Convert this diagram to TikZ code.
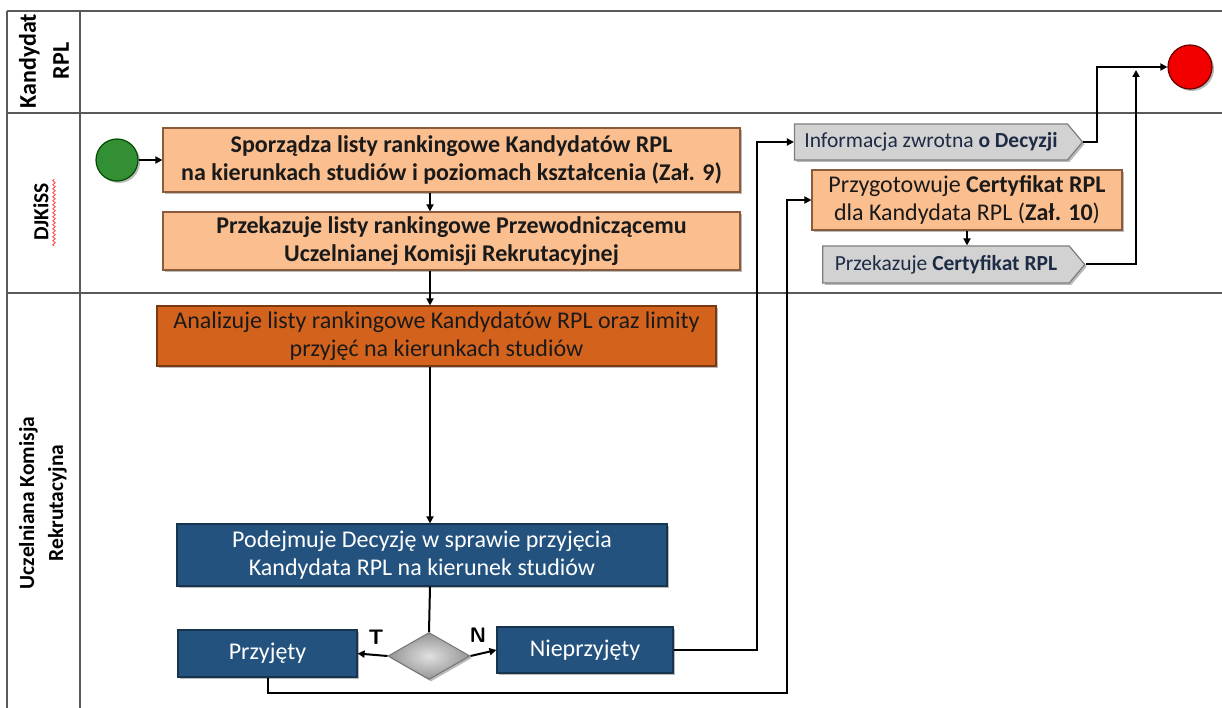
\documentclass[tikz,border=0pt]{standalone}
\usepackage{fontspec}
\setmainfont{Carlito}
\usetikzlibrary{arrows.meta,shapes.geometric,shapes.symbols,shadows,decorations.pathmorphing}
\definecolor{peach}{HTML}{FBBE8E}
\definecolor{peachD}{HTML}{8C5A3C}
\definecolor{orng}{HTML}{D3621C}
\definecolor{orngD}{HTML}{7A3A10}
\definecolor{blu}{HTML}{24527F}
\definecolor{bluD}{HTML}{17344F}
\definecolor{sig}{HTML}{D2D2D2}
\definecolor{sigD}{HTML}{7E7E7E}
\definecolor{lane}{HTML}{5A5A5A}
\definecolor{txt}{HTML}{1A1A1A}
\definecolor{navytxt}{HTML}{1E2B45}
\tikzset{
  laneline/.style={draw=lane, line width=1.4pt},
  lanelabel/.style={rotate=90, align=center, font=\fontsize{21.5}{29}\selectfont\bfseries, text=black},
  boxbase/.style={rectangle, line width=1.2pt, align=center, inner sep=2pt,
     drop shadow={shadow xshift=2pt, shadow yshift=-2pt, fill=black!45, opacity=0.6}},
  peachbox/.style={boxbase, fill=peach, draw=peachD, text=txt, font=\fontsize{24}{28}\selectfont},
  orangebox/.style={boxbase, fill=orng, draw=orngD, text=txt, font=\fontsize{24}{28}\selectfont},
  bluebox/.style={boxbase, fill=blu, draw=bluD, text=white, font=\fontsize{24}{28}\selectfont},
  sigbox/.style={signal, signal to=east, signal pointer angle=100, fill=sig, draw=sigD, line width=1.2pt,
     text=navytxt, font=\fontsize{21.5}{26}\selectfont, inner sep=2pt,
     drop shadow={shadow xshift=2pt, shadow yshift=-2pt, fill=black!45, opacity=0.6}},
  decis/.style={diamond, inner color=black!12, outer color=black!42, draw=black!55, line width=1pt, inner sep=0pt,
     drop shadow={shadow xshift=2pt, shadow yshift=-2pt, fill=black!45, opacity=0.6}},
  conn/.style={draw=black, line width=2pt},
  arr/.style={conn, -{Triangle[length=7pt,width=7pt]}},
  branch/.style={font=\fontsize{21}{21}\selectfont\bfseries\sffamily, text=black}
}
\begin{document}
\begin{tikzpicture}[x=1pt,y=-1pt]
\useasboundingbox (0,0) rectangle (1222,708);
% lanes
\draw[laneline] (7,11) -- (1222,11);
\draw[laneline] (7,113) -- (1222,113);
\draw[laneline] (7,293) -- (1222,293);
\draw[laneline] (7,11) -- (7,708);
\draw[laneline] (80,11) -- (80,708);
\node[lanelabel, font=\fontsize{24}{33}\selectfont\bfseries] (l1) at (44,61) {Kandydat\\RPL};
\node[lanelabel] (l2) at (41,212) {DJKiSS};
\draw[red!75, line width=0.8pt, decorate, decoration={snake, amplitude=1.2pt, segment length=4pt}] (54,246) -- (54,179);
\node[lanelabel] (l3) at (43,503) {Uczelniana Komisja\\Rekrutacyjna};

% events
\node[circle, minimum size=42pt, fill=green!45!black!80, draw=black!70!green, line width=1.2pt,
  drop shadow={shadow xshift=2pt, shadow yshift=-2pt, fill=black!45, opacity=0.6}] (start) at (117,160) {};
\node[circle, minimum size=44pt, fill=red!95!black, draw=red!40!black, line width=1.2pt,
  drop shadow={shadow xshift=2pt, shadow yshift=-2pt, fill=black!45, opacity=0.6}] (end) at (1190,67) {};

% boxes
\node[peachbox, minimum width=577pt, minimum height=64pt, font=\fontsize{24}{28}\selectfont\bfseries] (b1) at (451.5,160)
  {Sporządza listy rankingowe Kandydatów RPL\\na kierunkach studiów i poziomach kształcenia (Zał. 9)};
\node[peachbox, minimum width=577pt, minimum height=58pt, font=\fontsize{24}{28}\selectfont\bfseries] (b2) at (451.5,241)
  {Przekazuje listy rankingowe Przewodniczącemu\\Uczelnianej Komisji Rekrutacyjnej};
\node[orangebox, minimum width=559pt, minimum height=60pt] (b3) at (436.5,336)
  {Analizuje listy rankingowe Kandydatów RPL oraz limity\\przyjęć na kierunkach studiów};
\node[bluebox, minimum width=490pt, minimum height=62pt] (b4) at (422,555)
  {Podejmuje Decyzję w sprawie przyjęcia\\Kandydata RPL na kierunek studiów};
\node[decis, minimum width=82pt, minimum height=47pt] (d) at (429,656) {};
\node[bluebox, minimum width=179pt, minimum height=47pt] (yes) at (267.5,653.5) {Przyjęty};
\node[bluebox, minimum width=176pt, minimum height=46pt] (no) at (585,650) {Nieprzyjęty};
\node[branch, anchor=south] (T) at (376,648) {T};
\node[branch, anchor=south] (N) at (478,646) {N};

\node[sigbox, minimum width=288pt, minimum height=36pt] (info) at (931,142)
  {Informacja zwrotna \textbf{o Decyzji}};
\node[peachbox, minimum width=310pt, minimum height=60pt] (cert) at (967,200)
  {Przygotowuje \textbf{Certyfikat RPL}\\dla Kandydata RPL (\textbf{Zał. 10})};
\node[sigbox, minimum width=262pt, minimum height=37pt] (pass) at (946,264.5)
  {Przekazuje \textbf{Certyfikat RPL}};

% helper coordinates
\coordinate (vx) at (430,0);
\coordinate (c1) at (757,0);
\coordinate (c2) at (787,693);
\coordinate (c3) at (1097,0);
\coordinate (c4) at (1136,70);

% connectors
\draw[arr] (start.east) -- (b1.west);
\draw[arr] (b1.south -| vx) -- (b2.north -| vx);
\draw[arr] (b2.south -| vx) -- (b3.north -| vx);
\draw[arr] (b3.south -| vx) -- (b4.north -| vx);
\draw[conn] (b4.south -| vx) -- (d.north);
\draw[arr] (d.west) -- (yes.east);
\draw[arr] (d.east) -- (no.west);
\draw[arr] (no.east) -| (c1 |- info.west) -- (info.west);
\draw[arr] (yes.south) |- (c2) |- (cert.west);
\draw[arr] (cert.south) -- (cert.south |- pass.north);
\draw[arr] (info.east) -| (c3 |- end.west) -- (end.west);
\draw[arr] (pass.east) -| (c4);
\end{tikzpicture}
\end{document}
